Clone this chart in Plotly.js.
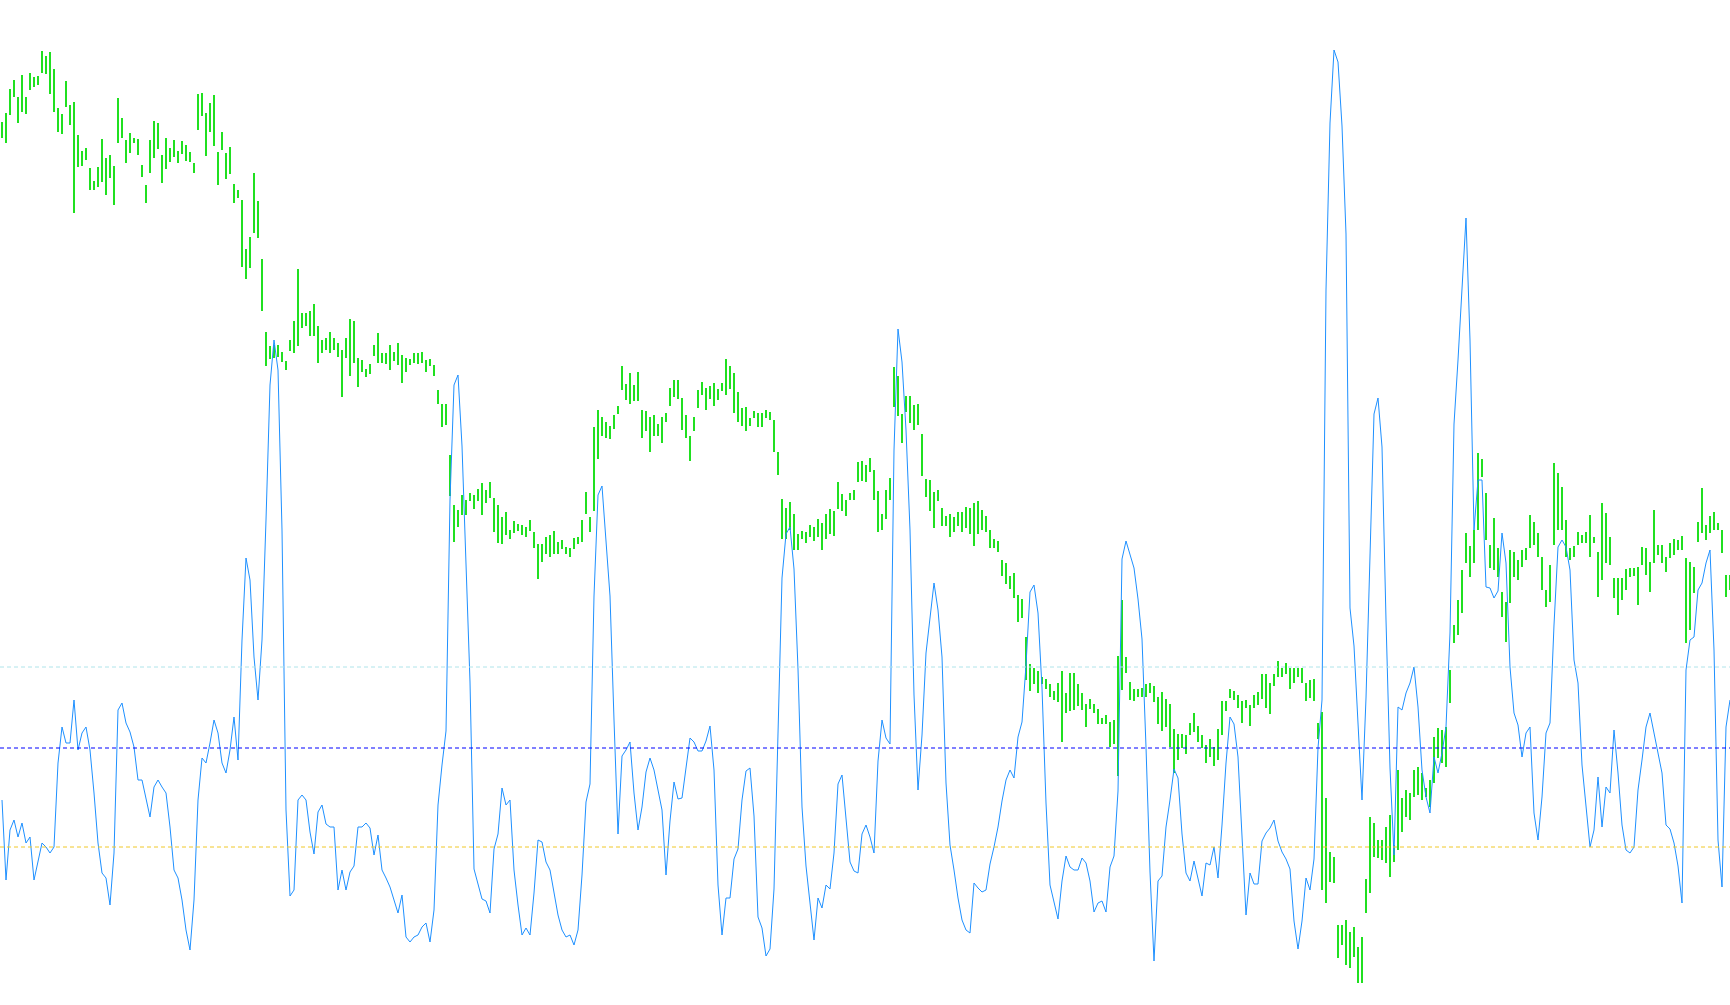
<!DOCTYPE html>
<html><head><meta charset="utf-8">
<script src="https://cdn.plot.ly/plotly-3.0.1.min.js"></script>
<style>html,body{margin:0;padding:0;background:#fff;overflow:hidden}#chart{width:1730px;height:1005px}</style>
</head><body><div id="chart"></div>
<script>
const priceHigh = [
878,887,911,920,903,925,903,927,923,924,
949,944,948,931,892,886,919,895,898,865,
849,852,832,819,833,861,842,845,834,902,
882,860,867,862,861,835,815,860,879,877,
845,862,852,860,849,859,855,848,837,906,
907,887,897,905,848,868,847,853,816,810,
800,751,763,827,799,741,668,654,655,655,
648,639,660,679,731,687,687,689,696,674,
660,662,668,662,657,650,662,681,679,642,
640,631,636,655,667,647,647,655,648,657,
645,642,641,647,647,648,640,641,635,610,
596,596,545,495,490,505,500,507,505,511,
517,510,518,502,495,483,488,470,479,476,
475,473,480,468,456,456,463,465,469,458,
460,453,452,462,463,480,508,483,573,590,
583,578,574,585,594,634,616,627,615,628,
590,589,583,585,576,583,587,612,620,620,
602,585,564,583,610,618,612,614,617,611,
617,641,634,627,608,592,593,582,589,587,
587,590,588,580,548,501,492,498,486,466,
469,468,475,473,481,477,486,491,489,518,
506,500,507,510,538,539,535,542,530,509,
486,510,522,633,624,586,604,604,595,596,
566,521,520,508,510,492,484,486,483,488,
488,493,492,497,499,490,484,470,461,459,
440,437,424,427,405,401,363,336,332,329,
323,321,316,309,317,329,307,327,327,316,
307,296,301,296,291,282,285,278,280,344,
400,343,318,311,311,312,316,317,314,303,
308,301,296,271,266,266,265,277,287,274,
265,255,261,253,271,299,299,311,309,305,
299,300,295,305,308,326,326,317,326,339,
332,337,332,332,332,332,317,320,321,277,
288,202,148,143,75,75,80,68,73,53,
63,121,183,177,160,160,173,185,155,230,
202,210,207,230,233,227,212,220,263,272,
270,273,330,375,400,430,467,454,470,547,
541,507,455,482,452,408,398,450,448,440,
450,452,485,478,467,443,410,435,537,527,
513,480,452,454,468,465,468,485,463,448,
497,487,463,422,422,422,431,432,432,433,
453,452,438,490,455,455,443,457,461,460,
464,442,438,433,478,512,475,484,488,477,
470,425,425
];
const priceLow = [
862,857,885,903,877,888,886,910,913,915,
927,926,906,888,868,866,893,875,787,833,
834,840,810,810,813,818,805,822,795,857,
862,837,847,857,845,823,797,827,842,851,
817,831,838,843,837,846,839,838,827,870,
884,844,868,854,815,850,821,826,797,802,
733,721,732,767,762,689,634,641,642,643,
638,630,649,647,654,672,674,664,664,637,
647,650,647,650,643,603,642,624,637,613,
628,623,626,644,637,637,636,630,639,635,
617,628,635,637,636,637,628,634,624,596,
573,575,504,458,473,485,485,499,491,499,
485,497,502,468,457,456,465,461,467,469,
465,463,469,452,421,438,446,443,446,446,
451,446,443,451,456,458,486,468,489,541,
564,562,561,571,586,610,600,596,599,599,
562,569,548,564,564,557,578,594,603,601,
570,562,539,569,592,605,590,601,594,600,
609,605,611,587,578,574,569,574,582,573,
573,582,580,548,525,461,461,470,450,450,
461,457,463,459,463,450,461,466,464,491,
489,484,500,500,518,519,518,528,500,468,
470,481,500,593,584,557,588,577,570,575,
524,503,489,472,499,474,474,463,468,474,
468,472,466,454,466,470,468,452,452,448,
424,416,411,402,378,382,320,309,316,307,
316,311,303,300,298,258,287,289,290,294,
290,273,291,287,276,276,276,253,256,224,
310,327,300,299,303,303,303,307,298,276,
269,273,253,227,240,252,246,265,268,258,
252,237,243,234,240,265,289,302,300,292,
277,292,274,292,295,301,292,286,314,323,
323,326,311,317,323,317,299,302,299,261,
110,97,118,117,42,55,35,32,43,17,
17,87,107,143,142,140,137,123,138,150,
168,183,180,203,205,200,203,193,217,242,
237,233,297,357,365,387,437,423,437,470,
523,460,432,430,423,383,358,397,423,420,
433,440,452,455,443,410,393,398,455,470,
470,443,440,443,455,457,457,443,457,403,
420,437,435,402,385,400,410,423,424,395,
435,425,408,437,445,437,428,442,445,450,
450,357,370,407,458,467,460,467,470,470,
447,403,410
];
const oscValue = [
200,120,170,180,163,177,157,163,120,137,
157,153,147,153,237,273,257,257,300,250,
267,273,250,207,157,127,122,95,147,290,
297,277,268,253,220,220,200,183,213,220,
213,207,173,130,122,100,70,50,100,200,
242,237,257,280,267,237,227,250,283,240,
360,442,420,343,300,360,480,615,660,630,
470,190,104,110,200,205,200,168,146,188,
195,176,173,173,110,130,110,128,134,173,
173,177,172,145,165,130,122,113,100,87,
105,63,58,63,65,73,77,58,90,195,
235,269,500,615,625,554,436,318,131,115,
101,99,87,151,166,212,195,200,130,95,
65,72,65,107,160,158,138,130,107,85,
70,63,65,55,70,125,198,216,404,505,
514,463,404,280,166,244,250,258,207,170,
193,228,242,230,210,190,125,179,218,201,
202,234,262,258,249,249,259,274,230,115,
65,102,102,141,151,200,229,232,184,83,
72,44,51,111,276,422,466,473,431,331,
193,134,97,60,102,92,115,111,147,216,
225,179,138,129,127,166,175,163,147,239,
280,262,256,550,671,638,570,470,305,210,
265,347,382,417,390,343,217,155,130,102,
80,70,67,117,112,108,110,136,153,173,
199,220,230,222,263,278,335,408,415,387,
312,197,115,97,81,119,144,133,130,130,
142,137,119,88,97,99,88,133,144,209,
441,459,445,432,401,361,253,128,39,119,
124,173,200,231,222,166,127,119,139,122,
104,137,135,153,122,175,237,283,276,243,
160,85,127,116,116,159,167,172,180,159,
148,141,131,79,51,79,122,110,141,252,
300,710,877,950,938,874,766,392,354,274,
200,302,444,586,602,553,380,232,145,293,
290,307,317,333,293,230,203,187,243,227,
247,273,367,576,640,710,782,660,470,520,
520,413,412,402,409,467,437,333,287,275,
243,267,273,187,160,203,267,277,375,453,
460,453,430,340,317,235,197,153,170,223,
173,213,207,270,227,175,150,147,153,210,
240,273,287,267,246,227,175,171,157,134,
97,330,360,363,410,417,437,450,350,160,
113,273,300
];
const levelValues = [333, 252, 153];
const levelColors = ['#afe4ea', '#0000ff', '#f0c828'];

const idx = priceHigh.map((_, i) => i);
const barTrace = {
  type: 'bar', x: idx, base: priceLow,
  y: priceHigh.map((h, i) => h - priceLow[i]),
  width: 0.5,
  marker: {color: '#20e020', line: {width: 0}},
  yaxis: 'y', hoverinfo: 'skip'
};
const lineTrace = {
  type: 'scatter', mode: 'lines', x: idx, y: oscValue,
  line: {color: '#1e90ff', width: 1},
  yaxis: 'y2', hoverinfo: 'skip'
};
const shapes = levelValues.map((v, i) => ({
  type: 'line', xref: 'paper', x0: 0, x1: 1, yref: 'y2', y0: v, y1: v,
  line: {color: levelColors[i], width: 1, dash: '4px,3px'}, layer: 'above'
}));
const layout = {
  width: 1730, height: 1005,
  margin: {l: 0, r: 0, t: 0, b: 0, pad: 0},
  paper_bgcolor: '#ffffff', plot_bgcolor: '#ffffff',
  showlegend: false, bargap: 0, barmode: 'overlay',
  xaxis: {range: [-0.5, 432], visible: false},
  yaxis: {range: [-5, 1000], visible: false},
  yaxis2: {range: [-5, 1000], overlaying: 'y', visible: false},
  shapes: shapes
};
Plotly.newPlot('chart', [barTrace, lineTrace], layout, {staticPlot: true, displayModeBar: false});
</script>
</body></html>
